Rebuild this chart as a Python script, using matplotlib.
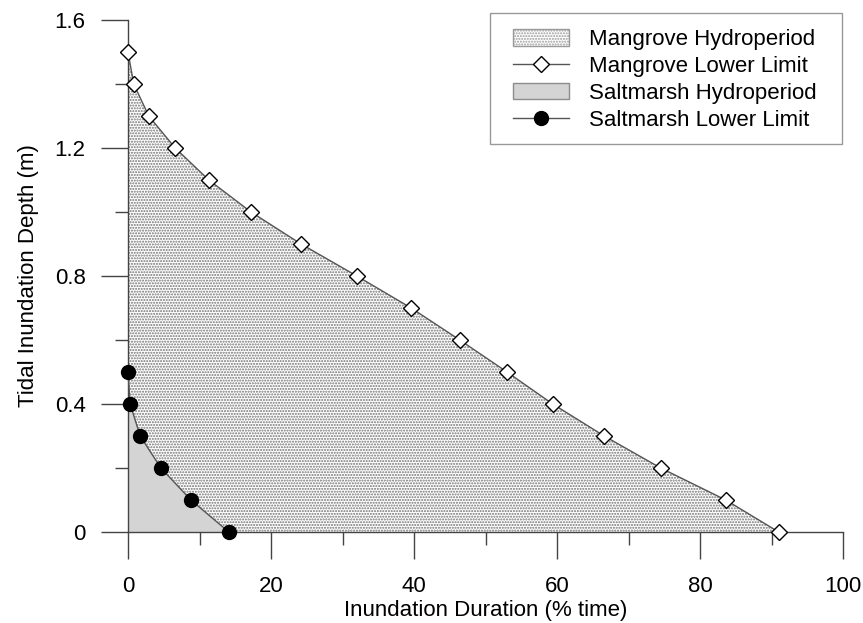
import matplotlib
matplotlib.use("Agg")
import matplotlib.pyplot as plt
from matplotlib.patches import Patch, Rectangle
from matplotlib.lines import Line2D

# ---- data ----
depth = [0.0, 0.1, 0.2, 0.3, 0.4, 0.5, 0.6, 0.7, 0.8, 0.9, 1.0, 1.1, 1.2, 1.3, 1.4, 1.5]
mangrove_duration = [91.0, 83.6, 74.5, 66.6, 59.4, 53.0, 46.4, 39.6, 32.0, 24.2, 17.2, 11.3, 6.6, 2.9, 0.8, 0.0]
salt_depth = [0.0, 0.1, 0.2, 0.3, 0.4, 0.5]
saltmarsh_duration = [14.1, 8.8, 4.6, 1.7, 0.3, 0.0]
xticks = [0, 20, 40, 60, 80, 100]
xtick_labels = ["0", "20", "40", "60", "80", "100"]
yticks = [0.0, 0.4, 0.8, 1.2, 1.6]
ytick_labels = ["0", "0.4", "0.8", "1.2", "1.6"]
legend_labels = ["Mangrove Hydroperiod", "Mangrove Lower Limit",
                 "Saltmarsh Hydroperiod", "Saltmarsh Lower Limit"]

plt.rcParams['font.family'] = ['Liberation Sans', 'DejaVu Sans']
plt.rcParams['hatch.color'] = '#737373'
plt.rcParams['hatch.linewidth'] = 1.0

FS = 16
axis_col = '#444444'
HATCH = '......'

fig = plt.figure(figsize=(8.63, 6.23), dpi=100)
ax = fig.add_axes([128/863, 91/623, 715/863, 512/623])

# mangrove hydroperiod (hatched)
ax.fill_betweenx(depth, 0, mangrove_duration, facecolor='white', edgecolor='#737373',
                 hatch=HATCH, linewidth=0, zorder=1)
# saltmarsh hydroperiod (grey)
ax.fill_betweenx(salt_depth, 0, saltmarsh_duration, facecolor='#d4d4d4',
                 edgecolor='none', linewidth=0, zorder=2)

ax.plot(mangrove_duration, depth, color='#555555', lw=1.0, marker='D', ms=8,
        mfc='white', mec='black', mew=1.0, clip_on=False, zorder=5)
ax.plot(saltmarsh_duration, salt_depth, color='#555555', lw=1.0, marker='o', ms=10,
        mfc='black', mec='black', clip_on=False, zorder=6)

ax.set_xlim(0, 100)
ax.set_ylim(0, 1.6)
for s in ['top', 'right']:
    ax.spines[s].set_visible(False)
for s in ['left', 'bottom']:
    ax.spines[s].set_color(axis_col)
    ax.spines[s].set_linewidth(1.0)

ax.set_xticks(xticks)
ax.set_xticklabels(xtick_labels)
ax.set_xticks([10, 30, 50, 70, 90], minor=True)
ax.set_yticks(yticks)
ax.set_yticklabels(ytick_labels)
ax.set_yticks([0.2, 0.6, 1.0, 1.4], minor=True)
ax.tick_params(which='major', direction='out', length=19.5, width=1.0, color=axis_col,
               labelsize=FS, pad=11)
ax.tick_params(which='minor', direction='out', length=9.5, width=1.0, color=axis_col)
ax.tick_params(axis='x', which='major', pad=12)

ax.set_xlabel('Inundation Duration (% time)', fontsize=FS, labelpad=2)
ax.set_ylabel('Tidal Inundation Depth (m)', fontsize=FS, labelpad=11)

handles = [
    Patch(facecolor='white', edgecolor='#9a9a9a', hatch=HATCH, linewidth=1.0),
    Line2D([], [], color='#555555', lw=1.0, marker='D', ms=8, mfc='white', mec='black'),
    Patch(facecolor='#d4d4d4', edgecolor='#8c8c8c', linewidth=1.0),
    Line2D([], [], color='#555555', lw=1.0, marker='o', ms=10, mfc='black', mec='black'),
]
leg = fig.legend(handles, legend_labels, loc='center left',
                 bbox_to_anchor=(513/863, 1 - 80/623), bbox_transform=fig.transFigure,
                 fontsize=FS, frameon=False, handlelength=2.5,
                 handleheight=0.75, handletextpad=0.92, labelspacing=0.26,
                 borderpad=0, borderaxespad=0)

# legend frame
frame = Rectangle((490/863, 1 - 144/623), (842 - 490)/863, (144 - 13)/623,
                  transform=fig.transFigure, facecolor='white', edgecolor='#999999',
                  linewidth=1.0, zorder=0)
fig.patches.append(frame)

fig.savefig('out.png', dpi=100)
